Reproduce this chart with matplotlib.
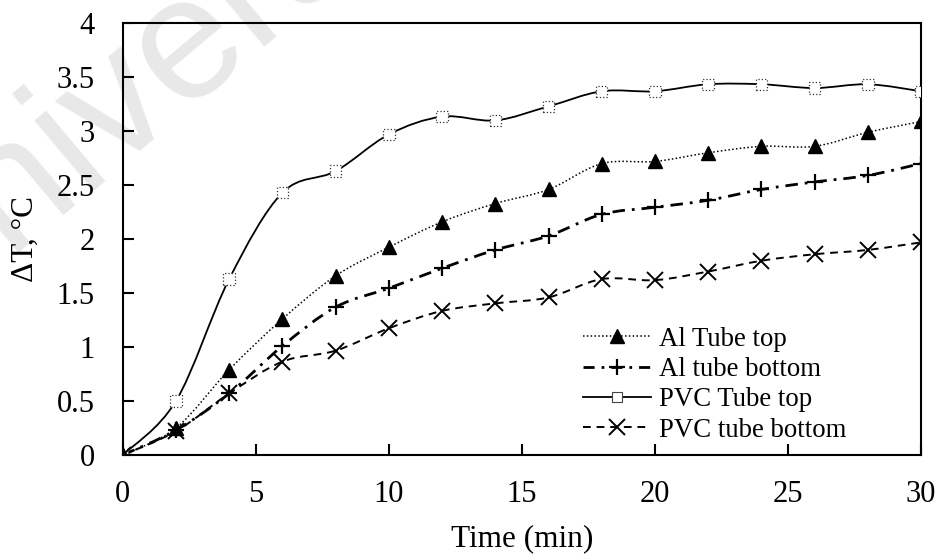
import numpy as np
import matplotlib
matplotlib.use("Agg")
import matplotlib.pyplot as plt
from matplotlib.path import Path
from matplotlib.patches import PathPatch
from matplotlib.lines import Line2D

time_min = [0, 2, 4, 6, 8, 10, 12, 14, 16, 18, 20, 22, 24, 26, 28, 30]
al_top = [0, 0.25, 0.79, 1.26, 1.66, 1.925, 2.16, 2.33, 2.46, 2.70, 2.72, 2.80, 2.86, 2.86, 2.99, 3.09]
al_bottom = [0, 0.23, 0.57, 1.01, 1.37, 1.545, 1.73, 1.90, 2.03, 2.23, 2.295, 2.36, 2.46, 2.53, 2.59, 2.70]
pvc_top = [0, 0.50, 1.63, 2.43, 2.63, 2.97, 3.135, 3.10, 3.23, 3.37, 3.37, 3.435, 3.435, 3.40, 3.435, 3.37]
pvc_bottom = [0, 0.22, 0.57, 0.865, 0.967, 1.174, 1.335, 1.405, 1.46, 1.63, 1.62, 1.70, 1.80, 1.86, 1.90, 1.97]
labels = ["Al Tube top", "Al tube bottom", "PVC Tube top", "PVC tube bottom"]

plt.rcParams['font.family'] = ['Liberation Serif', 'DejaVu Serif']

fig = plt.figure(figsize=(9.44, 5.54), dpi=100)
fig.patch.set_facecolor('white')
ax = fig.add_axes([0.130, 0.1787, 0.8457, 0.7793])
ax.patch.set_alpha(0)

# watermark (drawn beneath the axes)
fig.text(-0.095, 0.40, "University", rotation=40, rotation_mode='anchor',
         fontsize=126, color='#e8e8e8', family='Liberation Sans', zorder=-1,
         ha='left', va='baseline')


def smooth_path(x, y):
    x = np.asarray(x, float)
    y = np.asarray(y, float)
    pts = np.column_stack([x, y])
    n = len(pts)
    verts = [pts[0]]
    codes = [Path.MOVETO]
    for i in range(n - 1):
        p0 = pts[i - 1] if i > 0 else pts[i]
        p1 = pts[i]
        p2 = pts[i + 1]
        p3 = pts[i + 2] if i + 2 < n else pts[i + 1]
        c1 = p1 + (p2 - p0) / 6.0
        c2 = p2 - (p3 - p1) / 6.0
        verts += [c1, c2, p2]
        codes += [Path.CURVE4] * 3
    return Path(verts, codes)


styles = [
    dict(ls=(0, (1, 1.5)), lw=1.1),
    dict(ls=(0, (4.5, 2.5, 1, 2.5)), lw=2.0),
    dict(ls='-', lw=1.3),
    dict(ls=(0, (4, 3)), lw=1.4),
]
series = [al_top, al_bottom, pvc_top, pvc_bottom]
for s, st in zip(series, styles):
    ax.add_patch(PathPatch(smooth_path(time_min, s), fill=False, edgecolor='black',
                           linestyle=st['ls'], linewidth=st['lw'], zorder=2))

ax.plot(time_min, al_top, ls='none', marker='^', ms=10, color='black', zorder=4)
ax.plot(time_min, al_bottom, ls='none', marker='+', ms=12, mew=1.6, color='black', zorder=4)
ax.scatter(time_min, pvc_top, marker='s', s=68, facecolors='white', edgecolors='#333333',
           linewidths=0.9, linestyles=':', zorder=3)
ax.plot(time_min, pvc_bottom, ls='none', marker='x', ms=11, mew=1.4, color='black', zorder=4)

ax.set_xlim(0, 30)
ax.set_ylim(0, 4)
ax.set_xticks([0, 5, 10, 15, 20, 25, 30])
ax.set_yticks([0, 0.5, 1, 1.5, 2, 2.5, 3, 3.5, 4])
ax.set_yticklabels(['0', '0.5', '1', '1.5', '2', '2.5', '3', '3.5', '4'])
ax.tick_params(direction='in', length=8, width=1.5, labelsize=22,
               top=False, right=False)
ax.tick_params(axis='x', pad=18)
ax.tick_params(axis='y', pad=20)
for sp in ax.spines.values():
    sp.set_linewidth(1.5)
ax.set_xlabel("Time (min)", fontsize=22.5, labelpad=11)
ax.set_ylabel("ΔT, °C", fontsize=22.5, labelpad=12)

handles = [
    Line2D([], [], color='black', ls=(0, (1, 1.5)), lw=1.1, marker='^', ms=10),
    Line2D([], [], color='black', ls=(0, (4, 2.5, 1, 2.5)), lw=2.0, marker='+', ms=12, mew=1.6),
    Line2D([], [], color='black', ls='-', lw=1.3, marker='s', ms=7.5, mfc='white', mec='#444444', mew=0.8),
    Line2D([], [], color='black', ls=(0, (4, 3)), lw=1.4, marker='x', ms=11, mew=1.4),
]
leg = ax.legend(handles, labels, loc='lower left', bbox_to_anchor=(0.563, 0.004),
                frameon=False, fontsize=19.25, handlelength=2.55, handletextpad=0.3,
                labelspacing=0.2, borderaxespad=0)

fig.savefig("out.png", dpi=100)
